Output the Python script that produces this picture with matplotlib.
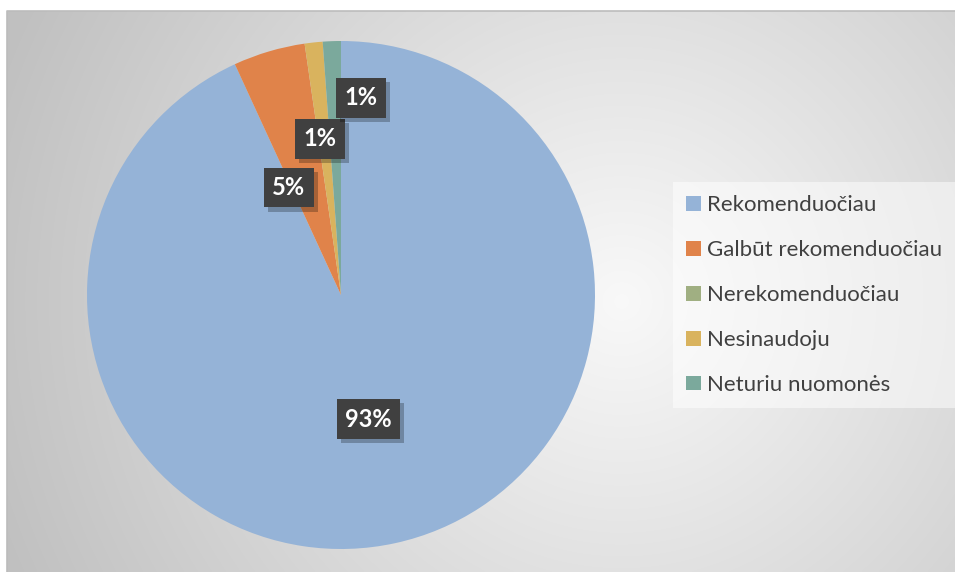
import numpy as np
import matplotlib
matplotlib.use('Agg')
import matplotlib.pyplot as plt
import matplotlib.patheffects as pe

plt.rcParams['font.family'] = ['Lato', 'DejaVu Sans']

# data (share of answers, percent)
categories = ["Rekomenduočiau", "Galbūt rekomenduočiau", "Nerekomenduočiau",
              "Nesinaudoju", "Neturiu nuomonės"]
values = [93.14, 4.57, 0.0, 1.14, 1.15]
colors = ["#95B3D7", "#E0834A", "#A0AF82", "#D9B35E", "#7BA99C"]

# label placement (Excel best fit): angle from top (deg, ccw), radius
label_angle = [-167.6, 25.9, None, 7.7, -5.8]
label_radius = [0.50, 0.47, None, 0.62, 0.78]

W, H = 955, 572
fig = plt.figure(figsize=(W / 100, H / 100), dpi=100)
fig.patch.set_facecolor('white')

# chart area with radial gradient
bg = fig.add_axes([7 / W, 0, (W - 7) / W, (H - 11) / H])
bg.set_axis_off()
ny, nx = 280, 474
yy, xx = np.mgrid[0:ny, 0:nx]
cx, cy = (620 - 7) / 2.0, (300 - 11) / 2.0
d = np.sqrt((xx - cx) ** 2 + (yy - cy) ** 2) / 330.0
d = np.clip(d, 0, 1)
shade = 0.975 - 0.22 * d
img = np.dstack([shade, shade, shade])
bg.imshow(img, aspect='auto', extent=(0, 1, 0, 1), origin='upper', interpolation='bilinear')
bg.set_xlim(0, 1)
bg.set_ylim(0, 1)
bg.plot([0, 0, 1], [0, 1, 1], color='#bcbcbc', lw=1.2, transform=bg.transAxes, clip_on=False)

# pie
ax = fig.add_axes([87 / W, (H - 549) / H, 508 / W, 508 / H])
ax.set_axis_off()
wedges, _ = ax.pie(values, colors=colors, startangle=90, counterclock=False,
                   radius=1.0, wedgeprops=dict(linewidth=0))
ax.set_xlim(-1, 1)
ax.set_ylim(-1, 1)
ax.set_aspect('equal')

for v, a, r in zip(values, label_angle, label_radius):
    if a is None or v == 0:
        continue
    th = np.deg2rad(90 + a)
    x, y = r * np.cos(th), r * np.sin(th)
    t = ax.text(x, y, "%d%%" % round(v), ha='center', va='center', fontsize=17,
                fontweight='bold', color='white',
                bbox=dict(boxstyle='square,pad=0.35', facecolor='#404040', edgecolor='none'))
    t.get_bbox_patch().set_path_effects([
        pe.SimplePatchShadow(offset=(3, -3), shadow_rgbFace='black', alpha=0.25), pe.Normal()])

leg = fig.legend(wedges, categories, loc='upper left', bbox_to_anchor=(673 / W, 1 - 182 / H),
                 fontsize=16, frameon=True, fancybox=False, labelspacing=1.12,
                 handlelength=0.65, handleheight=0.65, handletextpad=0.3,
                 borderpad=0.6, borderaxespad=0)
leg.get_frame().set_facecolor('white')
leg.get_frame().set_alpha(0.5)
leg.get_frame().set_edgecolor('none')
for t in leg.get_texts():
    t.set_color('#404040')

fig.savefig('out.png', dpi=100)
